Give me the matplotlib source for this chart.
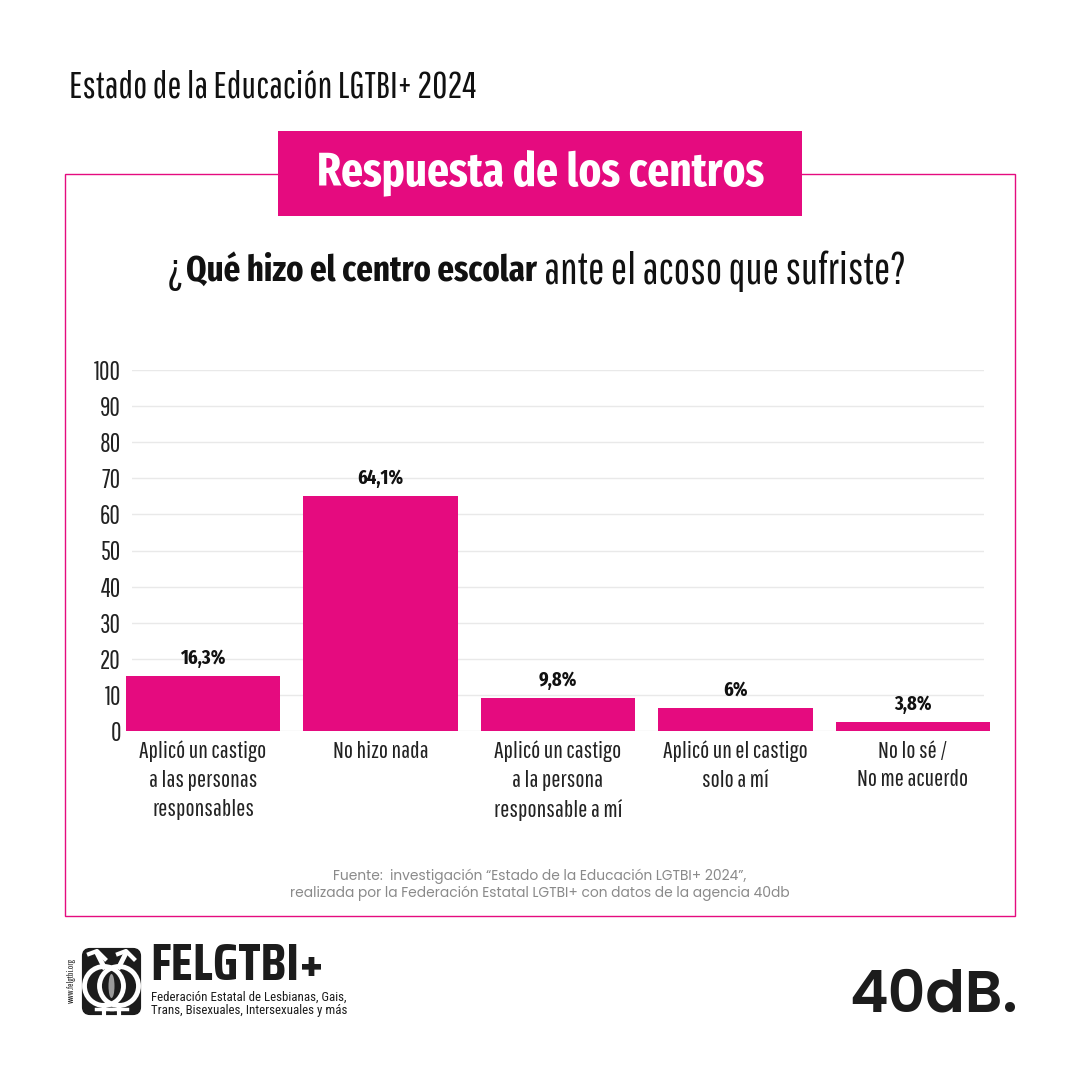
import matplotlib

matplotlib.use("Agg")
import matplotlib.pyplot as plt
from matplotlib.patches import Circle, Ellipse, FancyBboxPatch, Rectangle

THIN = ["Pathway Gothic One", "Liberation Sans Narrow", "Roboto"]
HEAVY = ["Fira Sans Extra Condensed", "Liberation Sans Narrow", "Roboto"]
PINK = "#e50b7f"
DARK = "#1c1c1c"

categories = [
    "Aplicó un castigo\na las personas\nresponsables",
    "No hizo nada",
    "Aplicó un castigo\na la persona\nresponsable a mí",
    "Aplicó un el castigo\nsolo a mí",
    "No lo sé /\nNo me acuerdo",
]
# heights as drawn in the picture, they differ a bit from the printed labels
bar_heights = [15.2, 65.1, 9.1, 6.4, 2.5]
bar_labels = ["16,3%", "64,1%", "9,8%", "6%", "3,8%"]
y_ticks = [0, 10, 20, 30, 40, 50, 60, 70, 80, 90, 100]

fig = plt.figure(figsize=(10.8, 10.8), dpi=100, facecolor="white")

# page overlay in pixel coordinates, y going down
page = fig.add_axes([0, 0, 1, 1])
page.set_xlim(0, 1080)
page.set_ylim(1080, 0)
page.axis("off")

page.text(69, 87, "Estado de la Educación LGTBI+ 2024", fontsize=26.8, family=THIN, color="#111111", va="center")

page.add_patch(Rectangle((65, 174), 950, 742, fill=False, edgecolor=PINK, linewidth=1))
page.add_patch(Rectangle((278, 131), 524, 85, facecolor=PINK, edgecolor="none", zorder=3))
page.text(541, 174, "Respuesta de los centros", fontsize=33.5, family=HEAVY, fontweight="bold", color="white",
          ha="center", va="center", zorder=4)

# question line, bold part then regular part
renderer = fig.canvas.get_renderer()
q1 = page.text(168, 271, "¿", fontsize=31, family=THIN, color="#111111", va="center")
x = q1.get_window_extent(renderer).x1 + 2
q2 = page.text(x, 271, "Qué hizo el centro escolar", fontsize=25.5, family=HEAVY, fontweight="bold",
               color="#111111", va="center")
x = q2.get_window_extent(renderer).x1 + 8
page.text(x, 271, "ante el acoso que sufriste?", fontsize=31.5, family=THIN, color="#111111", va="center")

# bar chart
ax = fig.add_axes([132 / 1080, 1 - 731 / 1080, 852 / 1080, 361 / 1080])
ax.set_xlim(-0.4, 4.4)
ax.set_ylim(0, 100)
ax.patch.set_alpha(0)
for side in ax.spines.values():
    side.set_visible(False)
ax.yaxis.grid(True, color="#e9e9e9", linewidth=1)
ax.set_axisbelow(True)
ax.bar(range(len(bar_heights)), bar_heights, width=0.868, color=PINK, clip_on=False, zorder=3)
ax.set_yticks(y_ticks)
ax.tick_params(axis="y", length=0, pad=8, labelsize=18.5, labelcolor="#222222")
for tick in ax.get_yticklabels():
    tick.set_family(THIN)
ax.set_xticks(range(len(categories)))
ax.set_xticklabels(categories, family=THIN, fontsize=17.5, color="#222222", linespacing=1.45, va="top")
ax.tick_params(axis="x", length=0, pad=7)
for i, h in enumerate(bar_heights):
    ax.annotate(bar_labels[i], (i, h), xytext=(0, 6), textcoords="offset points", ha="center", va="bottom",
                family=HEAVY, fontweight="bold", fontsize=14.5, color="#111111")

page.text(540, 885, "Fuente:  investigación “Estado de la Educación LGTBI+ 2024”,\n"
          "realizada por la Federación Estatal LGTBI+ con datos de la agencia 40db",
          family=["Poppins", "Open Sans"], fontsize=9.95, color="#8a8a8a", ha="center", va="center", linespacing=1.1)

# FELGTBI+ logo, rough redraw of the symbol
page.text(71, 981, "www.felgtbi.org", family=THIN, fontsize=6.5, color=DARK, rotation=90, ha="center", va="center")
page.add_patch(FancyBboxPatch((84, 950), 55, 63, boxstyle="round,pad=0,rounding_size=6", facecolor=DARK, edgecolor=DARK,
                              linewidth=3))
for cx, side in [(104, -1), (119, 1)]:
    page.add_patch(Circle((cx, 986), 19.5, facecolor="none", edgecolor="white", linewidth=3.5, zorder=3))
    # arrow on top, cross below
    page.plot([cx, cx + side * 7], [967, 953], color="white", linewidth=3.5, zorder=3)
    page.plot([cx + side * 7 - 8, cx + side * 7, cx + side * 7 + 8], [954, 951, 959], color="white", linewidth=3, zorder=3)
    page.plot([cx, cx], [1005, 1015], color="white", linewidth=3, zorder=3)
    page.plot([cx - 8, cx + 8], [1009, 1009], color="white", linewidth=2.5, zorder=3)
page.add_patch(Ellipse((111.5, 986), 6, 24, facecolor="#9a9a9a", edgecolor="none", zorder=4))
page.text(150, 966, "FELGTBI+", family=["Saira Condensed", "Liberation Sans"], fontweight="bold",
          fontsize=38, color=DARK, va="center")
page.text(151, 1004, "Federación Estatal de Lesbianas, Gais,\nTrans, Bisexuales, Intersexuales y más",
          family=["Roboto Condensed", "Liberation Sans Narrow", "Roboto"], fontsize=9.3, color=DARK, va="center",
          linespacing=1.05)

page.text(849, 998, "40dB.", family=["Poppins", "Inter"], fontweight="semibold", fontsize=42, color=DARK, va="center")

fig.savefig("out.png", dpi=100, facecolor="white")
